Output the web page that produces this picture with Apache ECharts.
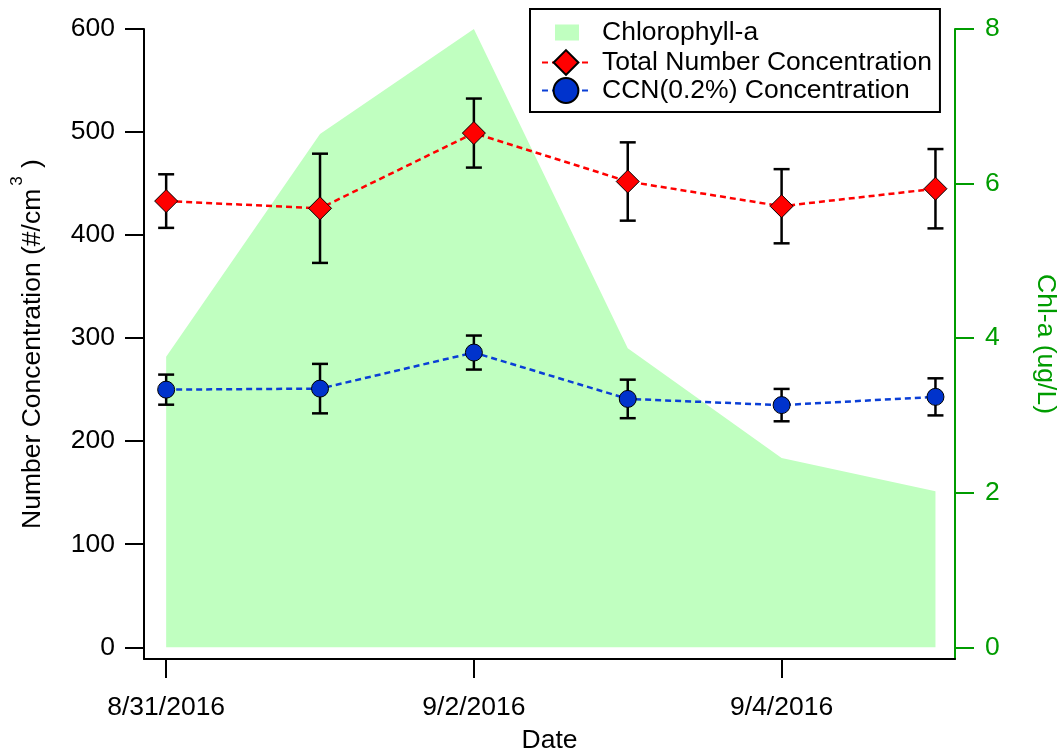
<!DOCTYPE html>
<html>
<head>
<meta charset="utf-8">
<title>Number Concentration and Chl-a</title>
<script src="https://cdn.jsdelivr.net/npm/echarts@6/dist/echarts.min.js"></script>
<style>
  html, body { margin: 0; padding: 0; background: #fff; }
  #chart { width: 1058px; height: 753px; }
</style>
</head>
<body>
<div id="chart"></div>
<script>
// Sampling dates
const dates = ['8/31/2016', '9/1/2016', '9/2/2016', '9/3/2016', '9/4/2016', '9/5/2016'];

// Total particle number concentration (#/cm3), mean and error
const totalConc = [433, 426, 499, 452, 428, 445];
const totalErr  = [26, 53, 33.5, 38, 36, 38.5];

// CCN at 0.2% supersaturation (#/cm3), mean and error
const ccnConc = [250, 251, 286, 241, 235, 243];
const ccnErr  = [14.6, 24, 16.5, 18.7, 15.7, 18];

// Chlorophyll-a (ug/L)
const chlA = [3.76, 6.64, 8.0, 3.87, 2.45, 2.02];

// Axis tick labels
const xTickLabels = ['8/31/2016', '9/2/2016', '9/4/2016'];
const leftTicks = [0, 100, 200, 300, 400, 500, 600];
const rightTicks = [0, 2, 4, 6, 8];

// Day offset from the first sampling date
function dayOf(s) {
  const [m, d, y] = s.split('/').map(Number);
  const [m0, d0, y0] = dates[0].split('/').map(Number);
  return (Date.UTC(y, m - 1, d) - Date.UTC(y0, m0 - 1, d0)) / 86400000;
}
const days = dates.map(dayOf);
const xTickDays = xTickLabels.map(dayOf);

const FONT = "'Liberation Sans', Arial, Helvetica, sans-serif";
const FS = 26.5;
const GREEN = '#009c00';

const pairs = (vals) => vals.map((v, i) => [days[i], v]);
const bars = (mean, err) => mean.map((v, i) => [days[i], v - err[i], v + err[i]]);

function renderErrorBar(params, api) {
  const x = api.value(0);
  const lo = api.coord([x, api.value(1)]);
  const hi = api.coord([x, api.value(2)]);
  const half = 8;
  const style = { stroke: '#000', lineWidth: 2.5 };
  return {
    type: 'group',
    children: [
      { type: 'line', shape: { x1: hi[0], y1: hi[1], x2: lo[0], y2: lo[1] }, style },
      { type: 'line', shape: { x1: hi[0] - half, y1: hi[1], x2: hi[0] + half, y2: hi[1] }, style },
      { type: 'line', shape: { x1: lo[0] - half, y1: lo[1], x2: lo[0] + half, y2: lo[1] }, style }
    ]
  };
}

const chart = echarts.init(document.getElementById('chart'), null, { renderer: 'canvas' });

chart.setOption({
  animation: false,
  backgroundColor: '#fff',
  textStyle: { fontFamily: FONT },
  grid: { left: 144, right: 103, top: 29, bottom: 94, outerBoundsMode: 'none', containLabel: false },
  legend: {
    orient: 'vertical',
    left: 530,
    top: 9,
    padding: [8, 8, 8, 11],
    itemGap: 1,
    itemWidth: 48,
    itemHeight: 31,
    backgroundColor: '#fff',
    borderColor: '#000',
    borderWidth: 2,
    borderRadius: 0,
    textStyle: { fontFamily: FONT, fontSize: FS, color: '#000', padding: [0, 0, 0, 7] },
    data: [
      { name: 'Chlorophyll-a', icon: 'path://M0,0M13,7.5h24v16h-24zM48,31', itemStyle: { color: '#c0ffc0' } },
      { name: 'Total Number Concentration' },
      { name: 'CCN(0.2%) Concentration' }
    ]
  },
  xAxis: {
    type: 'value',
    min: -0.144,
    max: 5.127,
    name: 'Date',
    nameLocation: 'middle',
    nameGap: 68,
    nameTextStyle: { fontFamily: FONT, fontSize: FS, color: '#000' },
    axisLine: { onZero: false, lineStyle: { color: '#000', width: 2 } },
    axisTick: { show: true, customValues: xTickDays, length: 19, inside: false, lineStyle: { color: '#000', width: 2 } },
    axisLabel: {
      customValues: xTickDays,
      margin: 35,
      fontFamily: FONT, fontSize: FS, color: '#000',
      formatter: (v) => xTickLabels[xTickDays.indexOf(v)] || ''
    },
    splitLine: { show: false }
  },
  yAxis: [
    {
      type: 'value',
      position: 'left',
      min: -11.4,
      max: 600,
      name: '{n|Number Concentration (#/cm}{s|3}{n| )}',
      nameLocation: 'middle',
      nameGap: 98,
      nameTextStyle: {
        fontFamily: FONT, fontSize: FS, color: '#000',
        rich: {
          n: { fontFamily: FONT, fontSize: FS, color: '#000', verticalAlign: 'bottom', lineHeight: 26 },
          s: { fontFamily: FONT, fontSize: 17, color: '#000', verticalAlign: 'bottom', lineHeight: 17, padding: [0, 1, 20, 3] }
        }
      },
      axisLine: { show: true, onZero: false, lineStyle: { color: '#000', width: 2 } },
      axisTick: { show: true, customValues: leftTicks, length: 19, inside: false, lineStyle: { color: '#000', width: 2 } },
      axisLabel: { customValues: leftTicks, margin: 29, fontFamily: FONT, fontSize: FS, color: '#000' },
      splitLine: { show: false }
    },
    {
      type: 'value',
      position: 'right',
      min: -0.152,
      max: 8,
      name: 'Chl-a (ug/L)',
      nameLocation: 'middle',
      nameRotate: -90,
      nameGap: 77,
      nameTextStyle: { fontFamily: FONT, fontSize: FS, color: GREEN },
      axisLine: { show: true, onZero: false, lineStyle: { color: GREEN, width: 2 } },
      axisTick: { show: true, customValues: rightTicks, length: 19, inside: false, lineStyle: { color: GREEN, width: 2 } },
      axisLabel: { customValues: rightTicks, margin: 30, fontFamily: FONT, fontSize: FS, color: GREEN },
      splitLine: { show: false }
    }
  ],
  series: [
    {
      name: 'Chlorophyll-a',
      type: 'line',
      yAxisIndex: 1,
      z: 1,
      data: pairs(chlA),
      showSymbol: false,
      symbol: 'none',
      lineStyle: { width: 0, color: '#c0ffc0' },
      itemStyle: { color: '#c0ffc0' },
      areaStyle: { color: '#c0ffc0', opacity: 1 }
    },
    {
      name: 'Total error',
      type: 'custom',
      z: 2,
      data: bars(totalConc, totalErr),
      renderItem: renderErrorBar
    },
    {
      name: 'CCN error',
      type: 'custom',
      z: 2,
      data: bars(ccnConc, ccnErr),
      renderItem: renderErrorBar
    },
    {
      name: 'Total Number Concentration',
      type: 'line',
      z: 3,
      data: pairs(totalConc),
      symbol: 'diamond',
      symbolSize: 23,
      lineStyle: { color: '#ff0000', width: 2.5, type: [6, 4] },
      itemStyle: { color: '#ff0000', borderColor: '#000', borderWidth: 1 }
    },
    {
      name: 'CCN(0.2%) Concentration',
      type: 'line',
      z: 3,
      data: pairs(ccnConc),
      symbol: 'circle',
      symbolSize: 17,
      lineStyle: { color: '#0a3fd6', width: 2.5, type: [6, 4] },
      itemStyle: { color: '#0033cc', borderColor: '#000', borderWidth: 1 }
    }
  ]
});
</script>
</body>
</html>
